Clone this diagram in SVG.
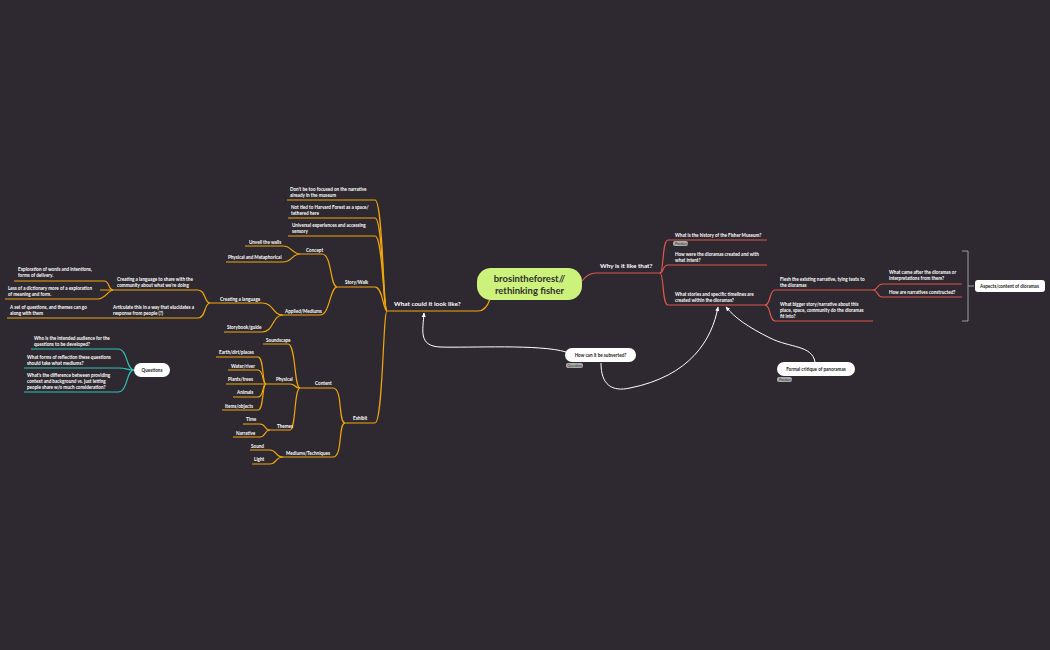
<svg xmlns="http://www.w3.org/2000/svg" width="1050" height="650" viewBox="0 0 1050 650">
<defs>
<style>
.t{font-family:Lato,"Noto Sans",sans-serif;font-size:4.6px;fill:#fff;font-weight:700}
.b{font-family:Lato,"Noto Sans",sans-serif;font-size:6.4px;fill:#fff;font-weight:700}
.o{fill:none;stroke:#f2a60c;stroke-width:1.2}
.r{fill:none;stroke:#e0574a;stroke-width:1.2}
.g{fill:none;stroke:#2ec4b6;stroke-width:1.2}
.w{fill:none;stroke:#fff;stroke-width:1}
.n{font-family:Lato,"Noto Sans",sans-serif;font-size:4.6px;fill:#222;font-weight:700}
.tag{font-family:Lato,"Noto Sans",sans-serif;font-size:3.6px;fill:#333}
</style>
<marker id="a" viewBox="0 0 10 10" refX="8" refY="5" markerWidth="5" markerHeight="5" orient="auto"><path d="M0,1 L9,5 L0,9 z" fill="#fff"/></marker>
</defs>
<rect width="1050" height="650" fill="#2e2930"/>
<g id="connectors">
<path class="o" d="M387 311 H478 Q486 311 490 299"/>
<path class="o" d="M287 200 H375 C383 200 383 311 387 311"/>
<path class="o" d="M288 218 H375 C383 218 383 311 387 311"/>
<path class="o" d="M288 236 H375 C383 236 383 311 387 311"/>
<path class="o" d="M337 287 H375 C383 287 383 311 387 311"/>
<path class="o" d="M345 423 H375 C383 423 383 311 387 311"/>
<path class="o" d="M300 254 H322 C332 254 330 287 337 287"/>
<path class="o" d="M283 315 H320 C330 315 330 287 337 287"/>
<path class="o" d="M245 246 H283 C292 246 292 254 300 254"/>
<path class="o" d="M226 262 H283 C292 262 292 254 300 254"/>
<path class="o" d="M210 303 H262 C274 303 272 315 283 315"/>
<path class="o" d="M224 332 H262 C274 332 272 315 283 315"/>
<path class="o" d="M100 290 H198 C206 290 204 303 210 303"/>
<path class="o" d="M7 318 H198 C206 318 204 303 210 303"/>
<path class="o" d="M14 281 H104 C110 281 108 290 113 290"/>
<path class="o" d="M5 299 H98 C106 299 108 290 113 290"/>
<path class="o" d="M300 388 H333 C343 388 338 423 345 423"/>
<path class="o" d="M283 457 H333 C343 457 338 423 345 423"/>
<path class="o" d="M263 344 H288 C296 344 294 388 300 388"/>
<path class="o" d="M265 384 H290 C296 384 294 388 300 388"/>
<path class="o" d="M270 430 H290 C296 430 294 388 300 388"/>
<path class="o" d="M216 357 H258 C264 357 262 384 266 384"/>
<path class="o" d="M228 370 H258 C264 370 262 384 266 384"/>
<path class="o" d="M226 384 H266"/>
<path class="o" d="M233 397 H258 C264 397 262 384 266 384"/>
<path class="o" d="M222 410 H258 C264 410 262 384 266 384"/>
<path class="o" d="M243 424 H260 C266 424 264 430 270 430"/>
<path class="o" d="M233 437 H260 C266 437 264 430 270 430"/>
<path class="o" d="M250 450 H270 C277 450 275 457 283 457"/>
<path class="o" d="M252 464 H270 C277 464 275 457 283 457"/>
<path class="g" d="M31 349 H118 C128 349 126 370 134 370"/>
<path class="g" d="M24 368 H118 C128 368 126 370 134 370"/>
<path class="g" d="M24 392 H118 C128 392 126 370 134 370"/>
<path class="r" d="M582 281 Q588 273 596 273 H660"/>
<path class="r" d="M668 240 H767 M668 240 C662 240 664 273 660 273"/>
<path class="r" d="M668 265 H767 M668 265 C662 265 664 273 660 273"/>
<path class="r" d="M668 305 H765 M668 305 C662 305 664 273 660 273"/>
<path class="r" d="M775 290 H873 M775 290 C769 290 771 305 765 305"/>
<path class="r" d="M775 321 H873 M775 321 C769 321 771 305 765 305"/>
<path class="r" d="M882 284 H962 M882 284 C877 284 878 290 873 290"/>
<path class="r" d="M882 297 H962 M882 297 C877 297 878 290 873 290"/>
<path fill="none" stroke="#bbb" stroke-width="0.8" d="M962 251 H968 V321 H962 M968 286 H974"/>
<path class="w" marker-end="url(#a)" d="M566 352 C540 344 470 348 440 347 C418 346 423 330 424 313"/>
<path class="w" marker-end="url(#a)" d="M601 363 C601 385 612 392 630 388 C690 376 712 340 718 307"/>
<path class="w" marker-end="url(#a)" d="M815 362 C812 345 790 348 770 338 C748 327 735 318 726 307"/>
</g>
<g id="center"><rect x="477" y="268" width="105" height="32" rx="14" fill="#cdf27c"/><text x="529.5" y="282" text-anchor="middle" font-family="Lato,'Noto Sans',sans-serif" font-size="9.5" font-weight="700" fill="#2e2e2e">brosintheforest//</text><text x="529.5" y="294" text-anchor="middle" font-family="Lato,'Noto Sans',sans-serif" font-size="9.5" font-weight="700" fill="#2e2e2e">rethinking fisher</text></g>
<g id="look"><text class="b" x="394" y="306">What could it look like?</text></g>
<g id="n1"><text class="t" x="290" y="191">Don't be too focused on the narrative</text><text class="t" x="290" y="197">already in the museum</text></g>
<g id="n2"><text class="t" x="291" y="209">Not tied to Harvard Forest as a space/</text><text class="t" x="291" y="215">tethered here</text></g>
<g id="n3"><text class="t" x="292" y="227">Universal experiences and accessing</text><text class="t" x="292" y="233">sensory</text></g>
<g id="story"><text class="t" x="345" y="284">Story/Walk</text></g>
<g id="concept"><text class="t" x="306" y="252">Concept</text></g>
<g id="unveil"><text class="t" x="249" y="244">Unveil the walls</text></g>
<g id="phymet"><text class="t" x="228" y="259">Physical and Metaphorical</text></g>
<g id="applied"><text class="t" x="285" y="313">Applied/Mediums</text></g>
<g id="creating"><text class="t" x="220" y="301">Creating a language</text></g>
<g id="storybook"><text class="t" x="227" y="329">Storybook/guide</text></g>
<g id="share"><text class="t" x="117" y="281">Creating a language to share with the</text><text class="t" x="117" y="287">community about what we're doing</text></g>
<g id="articulate"><text class="t" x="113" y="309">Articulate this in a way that elucidates a</text><text class="t" x="113" y="315">response from people (?)</text></g>
<g id="explore"><text class="t" x="18" y="271">Exploration of words and intentions,</text><text class="t" x="18" y="277">forms of delivery.</text></g>
<g id="dict"><text class="t" x="8" y="290">Less of a dictionary more of a exploration</text><text class="t" x="8" y="296">of meaning and form.</text></g>
<g id="setq"><text class="t" x="10" y="309">A set of questions, and themes can go</text><text class="t" x="10" y="315">along with them</text></g>
<g id="questions"><rect x="134" y="363" width="36" height="14" rx="7" fill="#fff"/><text class="n" x="152" y="371.5" text-anchor="middle">Questions</text></g>
<g id="q1"><text class="t" x="34" y="340">Who is the intended audience for the</text><text class="t" x="34" y="346">questions to be developed?</text></g>
<g id="q2"><text class="t" x="27" y="359">What forms of reflection these questions</text><text class="t" x="27" y="365">should take what mediums?</text></g>
<g id="q3"><text class="t" x="27" y="377">What's the difference between providing</text><text class="t" x="27" y="383">context and background vs. just letting</text><text class="t" x="27" y="389">people share w/o much consideration?</text></g>
<g id="exhibit"><text class="t" x="353" y="420">Exhibit</text></g>
<g id="content"><text class="t" x="315" y="385">Content</text></g>
<g id="sound"><text class="t" x="266" y="342">Soundscape</text></g>
<g id="physical"><text class="t" x="276" y="381">Physical</text></g>
<g id="earth"><text class="t" x="219" y="354">Earth/dirt/places</text></g>
<g id="water"><text class="t" x="231" y="368">Water/river</text></g>
<g id="plants"><text class="t" x="228" y="381">Plants/trees</text></g>
<g id="animals"><text class="t" x="237" y="394">Animals</text></g>
<g id="items"><text class="t" x="225" y="408">Items/objects</text></g>
<g id="themes"><text class="t" x="277" y="428">Themes</text></g>
<g id="time"><text class="t" x="246" y="421">Time</text></g>
<g id="narr"><text class="t" x="236" y="435">Narrative</text></g>
<g id="mediums"><text class="t" x="286" y="455">Mediums/Techniques</text></g>
<g id="soundm"><text class="t" x="251" y="448">Sound</text></g>
<g id="light"><text class="t" x="254" y="461">Light</text></g>
<g id="why"><text class="b" x="600" y="268">Why is it like that?</text></g>
<g id="hist"><text class="t" x="675" y="237">What is the history of the Fisher Museum?</text><rect x="673" y="241" width="15" height="5" rx="2" fill="#aaa"/><text class="tag" x="675" y="245">Product</text></g>
<g id="how"><text class="t" x="675" y="256">How were the dioramas created and with</text><text class="t" x="675" y="262">what intent?</text></g>
<g id="stories"><text class="t" x="675" y="296">What stories and specific timelines are</text><text class="t" x="675" y="302">created within the dioramas?</text></g>
<g id="flesh"><text class="t" x="780" y="281">Flesh the existing narrative, tying texts to</text><text class="t" x="780" y="287">the dioramas</text></g>
<g id="bigger"><text class="t" x="780" y="306">What bigger story/narrative about this</text><text class="t" x="780" y="312">place, space, community do the dioramas</text><text class="t" x="780" y="318">fit into?</text></g>
<g id="after"><text class="t" x="889" y="274">What came after the dioramas or</text><text class="t" x="889" y="280">interpretations from them?</text></g>
<g id="constructed"><text class="t" x="889" y="294">How are narratives constructed?</text></g>
<g id="aspects"><rect x="975" y="280" width="70" height="12" rx="3" fill="#fff"/><text class="n" x="980" y="287.5" font-weight="400">Aspects/content of dioramas</text></g>
<g id="subverted"><rect x="565" y="348" width="71" height="14" rx="7" fill="#fff"/><text class="n" x="600.5" y="357" text-anchor="middle">How can it be subverted?</text><rect x="566" y="363" width="17" height="5" rx="2" fill="#aaa"/><text class="tag" x="567.5" y="367">Question</text></g>
<g id="formal"><rect x="777" y="362" width="78" height="14" rx="7" fill="#fff"/><text class="n" x="816" y="371" text-anchor="middle">Formal critique of panoramas</text><rect x="777" y="377" width="15" height="5" rx="2" fill="#aaa"/><text class="tag" x="779" y="381">Product</text></g>
</svg>
